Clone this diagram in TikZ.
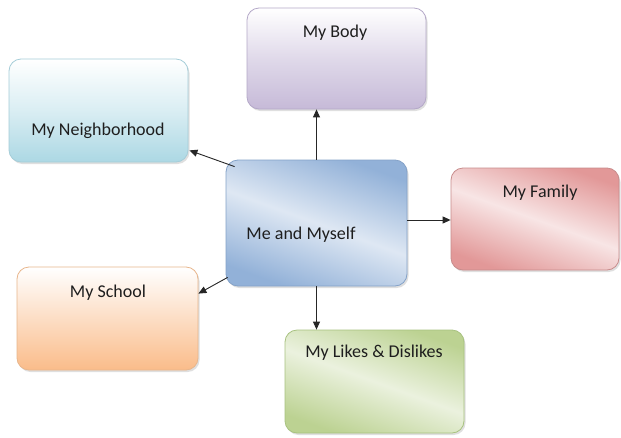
\documentclass[tikz,border=0pt]{standalone}
\usepackage{fontspec}
\setmainfont{Carlito}
\usetikzlibrary{arrows.meta,calc,shadows}
\definecolor{bodyc}{RGB}{198,186,216}
\definecolor{bodyb}{RGB}{180,168,200}
\definecolor{nbc}{RGB}{172,216,228}
\definecolor{nbb}{RGB}{165,205,216}
\definecolor{mec}{RGB}{146,177,216}
\definecolor{meb}{RGB}{132,162,200}
\definecolor{famc}{RGB}{226,152,152}
\definecolor{famb}{RGB}{200,140,140}
\definecolor{schc}{RGB}{250,188,138}
\definecolor{schb}{RGB}{232,182,140}
\definecolor{likc}{RGB}{188,210,146}
\definecolor{likb}{RGB}{168,194,128}
\definecolor{txt}{RGB}{30,30,30}
\tikzset{
  box/.style={rectangle, rounded corners=12pt, inner sep=0pt, line width=0.8pt,
    drop shadow={shadow xshift=1.5pt, shadow yshift=-2pt, opacity=0.25}},
  lbl/.style={font=\fontsize{18}{20}\selectfont, text=txt, inner sep=0pt},
  arr/.style={line width=0.9pt, draw=black!85, -{Triangle[length=8pt,width=7pt]}}
}
\begin{document}
\begin{tikzpicture}[x=1pt,y=-1pt]
\useasboundingbox (0,0) rectangle (621,437);
\fill[white] (0,0) rectangle (621,437);
% boxes
\node[box, draw=bodyb, top color=white, bottom color=bodyc, middle color=bodyc!55,
  minimum width=179pt, minimum height=101pt] (body) at (336.5,58.5) {};
\node[box, draw=nbb, top color=white, bottom color=nbc, middle color=nbc!45,
  minimum width=179pt, minimum height=103pt] (nb) at (98.5,110.5) {};
\node[box, draw=meb, shading=axis, left color=mec, right color=mec, middle color=mec!30,
  shading angle=-20, minimum width=181pt, minimum height=126pt] (me) at (316.5,223) {};
\node[box, draw=famb, shading=axis, left color=famc, right color=famc, middle color=famc!25,
  shading angle=-20, minimum width=168pt, minimum height=102pt] (fam) at (535,219) {};
\node[box, draw=schb, top color=white, bottom color=schc, middle color=schc!50,
  minimum width=181pt, minimum height=103pt] (sch) at (107.5,318.5) {};
\node[box, draw=likb, shading=axis, left color=likc, right color=likc, middle color=likc!30,
  shading angle=-20, minimum width=179pt, minimum height=103pt] (lik) at (374.5,381.5) {};
% labels
\node[lbl] (tbody) at (335,33) {My Body};
\node[lbl] (tnb) at (98,131) {My Neighborhood};
\node[lbl] (tme) at (301,235) {Me and Myself};
\node[lbl] (tfam) at (540,193) {My Family};
\node[lbl] (tsch) at (108,293) {My School};
\node[lbl] (tlik) at (374,353) {My Likes \& Dislikes};
% connectors
\coordinate (mefam) at ($(me.east)+(0,-3)$);
\coordinate (nbend) at ($(nb.south east)+(1,-12)$);
\coordinate (meul) at ($(me.north west)+(9,7)$);
\coordinate (mell) at ($(me.south west)+(2,-9)$);
\coordinate (schend) at ($(sch.north east)+(0,27)$);
\draw[arr] (me.north) -- (me.north |- body.south);
\draw[arr] (me.south) -- (me.south |- lik.north);
\draw[arr] (mefam) -- (mefam -| fam.west);
\draw[arr] (meul) -- (nbend);
\draw[arr] (mell) -- (schend);
\end{tikzpicture}
\end{document}
